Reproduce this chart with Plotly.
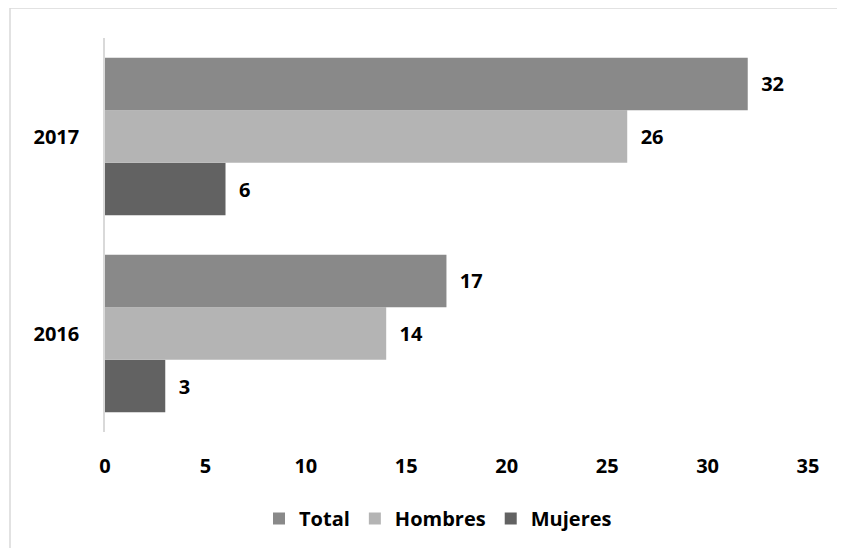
import plotly.graph_objects as go

categories = ["2016", "2017"]
series_names = ["Total", "Hombres", "Mujeres"]
total = [17, 32]
hombres = [14, 26]
mujeres = [3, 6]
x_ticks = [0, 5, 10, 15, 20, 25, 30, 35]

colors = {"Total": "#898989", "Hombres": "#b4b4b4", "Mujeres": "#626262"}
values = {"Total": total, "Hombres": hombres, "Mujeres": mujeres}

FONT = "Open Sans"
FS = 20
fig = go.Figure()
# add bottom-most first so Total sits on top within each group
for rank, name in zip([3, 2, 1], ["Mujeres", "Hombres", "Total"]):
    fig.add_trace(go.Bar(
        y=categories, x=values[name], name=name, orientation="h",
        marker=dict(color=colors[name], line=dict(width=0)),
        text=values[name], texttemplate="\u00a0\u00a0%{x}",
        textposition="outside", cliponaxis=False,
        textfont=dict(family=FONT, size=FS, color="#000000", weight="bold"),
        legendrank=rank,
    ))

W, H = 845, 548
OFF = 8  # page body offset
# desired page-pixel plot area: x 105..808, y 38..432
L, T = 105 - OFF, 38 - OFF
pw, ph = 808 - 105, 432 - 38
R, B = W - L - pw, H - T - ph

def px_x(p):
    return (p - OFF - L) / pw

def px_y(p):
    return (T + ph - (p - OFF)) / ph

fig.add_shape(type="rect", xref="paper", yref="paper",
              x0=px_x(10), x1=px_x(870), y0=px_y(570), y1=px_y(8),
              line=dict(color="#d9d9d9", width=1.5), fillcolor="rgba(0,0,0,0)")

fig.update_layout(
    width=W, height=H,
    margin=dict(l=L, r=R, t=T, b=B),
    paper_bgcolor="white", plot_bgcolor="white",
    barmode="group", bargap=0.2, bargroupgap=0,
    font=dict(family=FONT, size=FS, color="#000000"),
    showlegend=True,
    legend=dict(orientation="h", x=px_x(438), xanchor="center", y=px_y(499), yanchor="top",
                font=dict(family=FONT, size=FS, color="#000000", weight="bold"),
                itemwidth=30, tracegroupgap=0),
    xaxis=dict(range=[0, 35], tickvals=x_ticks, showgrid=False, zeroline=False,
               showline=False, ticks="",
               tickfont=dict(family=FONT, size=FS, color="#000000", weight="bold"),
               ticklabelstandoff=20),
    yaxis=dict(categoryorder="array", categoryarray=categories, showgrid=False,
               zeroline=False, showline=True, linecolor="#d9d9d9", linewidth=1.5,
               ticks="", tickfont=dict(family=FONT, size=FS, color="#000000", weight="bold"),
               ticklabelstandoff=20),
)

fig.write_html("out.html")
